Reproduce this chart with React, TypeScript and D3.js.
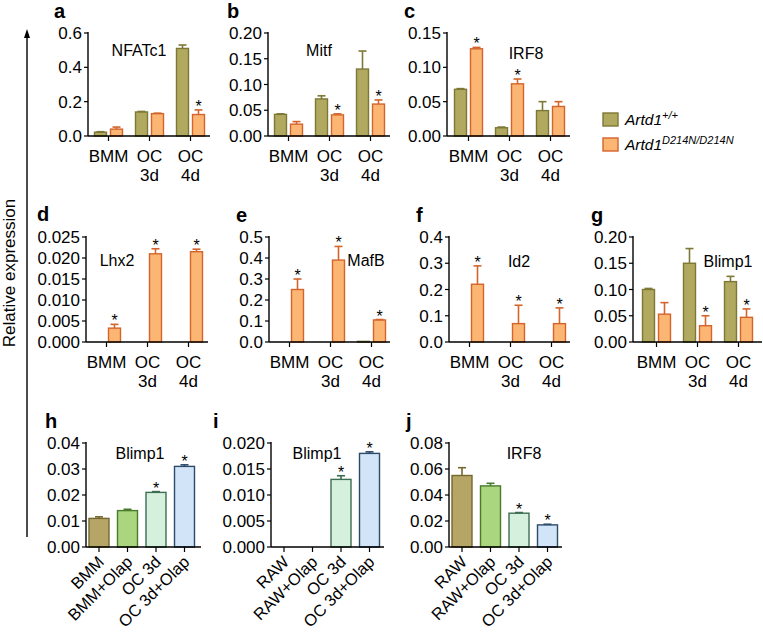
import React from "react";
import * as d3 from "d3";

// ---------- data ----------
const groupCats = ["BMM", "OC 3d", "OC 4d"];
const legendNames = ["Artd1", "Artd1"];
const legendSups = ["+/+", "D214N/D214N"];

// a NFATc1
const nfatc1Wt = [0.022, 0.14, 0.51];
const nfatc1WtSd = [0.003, 0.003, 0.02];
const nfatc1Mut = [0.04, 0.13, 0.125];
const nfatc1MutSd = [0.012, 0.003, 0.027];
const nfatc1Star = [0, 0, 1];
// b Mitf
const mitfWt = [0.042, 0.072, 0.13];
const mitfWtSd = [0.001, 0.006, 0.035];
const mitfMut = [0.023, 0.041, 0.062];
const mitfMutSd = [0.005, 0.002, 0.008];
const mitfStar = [0, 1, 1];
// c IRF8
const irf8Wt = [0.068, 0.012, 0.037];
const irf8WtSd = [0.001, 0.001, 0.013];
const irf8Mut = [0.127, 0.076, 0.043];
const irf8MutSd = [0.002, 0.007, 0.007];
const irf8Star = [1, 1, 0];
// d Lhx2
const lhx2Wt = [0, 0, 0];
const lhx2WtSd = [0, 0, 0];
const lhx2Mut = [0.0033, 0.021, 0.0215];
const lhx2MutSd = [0.0009, 0.0012, 0.0006];
const lhx2Star = [1, 1, 1];
// e MafB
const mafbWt = [0, 0, 0.003];
const mafbWtSd = [0, 0, 0];
const mafbMut = [0.25, 0.39, 0.105];
const mafbMutSd = [0.05, 0.065, 0.002];
const mafbStar = [1, 1, 1];
// f Id2
const id2Wt = [0, 0, 0];
const id2WtSd = [0, 0, 0];
const id2Mut = [0.22, 0.07, 0.07];
const id2MutSd = [0.07, 0.07, 0.06];
const id2Star = [1, 1, 1];
// g Blimp1
const blimpWt = [0.1, 0.15, 0.115];
const blimpWtSd = [0.002, 0.028, 0.01];
const blimpMut = [0.053, 0.031, 0.047];
const blimpMutSd = [0.022, 0.019, 0.016];
const blimpStar = [0, 1, 1];

// h, i, j olaparib panels
const bmmCats = ["BMM", "BMM+Olap", "OC 3d", "OC 3d+Olap"];
const rawCats = ["RAW", "RAW+Olap", "OC 3d", "OC 3d+Olap"];
const hBlimp = [0.011, 0.014, 0.021, 0.031];
const hBlimpSd = [0.0006, 0.0005, 0.0003, 0.0006];
const hStar = [0, 0, 1, 1];
const iBlimp = [0, 0, 0.013, 0.018];
const iBlimpSd = [0, 0, 0.0007, 0.0003];
const iStar = [0, 0, 1, 1];
const jIrf8 = [0.055, 0.047, 0.026, 0.017];
const jIrf8Sd = [0.006, 0.002, 0.0005, 0.0005];
const jStar = [0, 0, 1, 1];

// y ticks
const ticksA = [0, 0.2, 0.4, 0.6];
const ticksB = [0, 0.05, 0.1, 0.15, 0.2];
const ticksC = [0, 0.05, 0.1, 0.15];
const ticksD = [0, 0.005, 0.01, 0.015, 0.02, 0.025];
const ticksE = [0, 0.1, 0.2, 0.3, 0.4, 0.5];
const ticksF = [0, 0.1, 0.2, 0.3, 0.4];
const ticksG = [0, 0.05, 0.1, 0.15, 0.2];
const ticksH = [0, 0.01, 0.02, 0.03, 0.04];
const ticksI = [0, 0.005, 0.01, 0.015, 0.02];
const ticksJ = [0, 0.02, 0.04, 0.06, 0.08];

// ---------- style ----------
const FONT = "'Liberation Sans', Arial, sans-serif";
const WT_FILL = "#b0a95f";
const WT_STROKE = "#7d7836";
const MUT_FILL = "#fcb674";
const MUT_STROKE = "#d4642b";
const OLAP_FILLS = ["#b5a567", "#a9d67e", "#d5f0dc", "#d2e4f8"];
const OLAP_STROKES = ["#76672f", "#4a7a2c", "#3c6e52", "#2c4a6a"];
const TICK_FS = 17;

type GP = {
  letter: string; lx: number; ly: number;
  title: string; tx: number; ty: number;
  x0: number; off: number; xEnd: number; top: number; bottom: number;
  ticks: number[]; fmt: string;
  wt: number[]; wtSd: number[]; mut: number[]; mutSd: number[]; star: number[];
};

function Axes({ x0, xEnd, top, bottom, ticks, fmt, y }: any) {
  const f = d3.format(fmt);
  return (
    <g>
      <line x1={x0} x2={x0} y1={top - 1} y2={bottom} stroke="#000" strokeWidth={1.4} />
      <line x1={x0} x2={xEnd} y1={bottom} y2={bottom} stroke="#000" strokeWidth={1.4} />
      {ticks.map((t: number) => (
        <g key={t}>
          <line x1={x0 - 4} x2={x0} y1={y(t)} y2={y(t)} stroke="#000" strokeWidth={1.2} />
          <text x={x0 - 6} y={y(t) + 6} textAnchor="end" fontSize={TICK_FS} fontFamily={FONT}>
            {f(t)}
          </text>
        </g>
      ))}
    </g>
  );
}

function Bar({ x, w, v, sd, y, fill, stroke, star, bottom }: any) {
  if (v <= 0) return null;
  const yt = y(v);
  const ye = y(v + sd);
  const cx = x + w / 2;
  return (
    <g>
      <rect x={x} y={yt} width={w} height={Math.max(bottom - yt, 0.8)} fill={fill} stroke={stroke} strokeWidth={1.4} />
      {sd > 0 && (
        <g stroke={stroke} strokeWidth={1.6}>
          <line x1={cx} x2={cx} y1={yt} y2={ye} />
          <line x1={cx - 4} x2={cx + 4} y1={ye} y2={ye} />
        </g>
      )}
      {star ? (
        <text x={cx} y={ye + 2} textAnchor="middle" fontSize={16} fontFamily={FONT}>
          *
        </text>
      ) : null}
    </g>
  );
}

function GroupPanel({ p }: { p: GP }) {
  const y = d3.scaleLinear().domain([0, p.ticks[p.ticks.length - 1]]).range([p.bottom, p.top]);
  const x = d3.scaleBand().domain(groupCats).range([p.x0 + p.off, p.x0 + p.off + 123]);
  const bw = 12;
  const gap = 4;
  return (
    <g>
      <text x={p.lx} y={p.ly} fontSize={20} fontWeight="bold" fontFamily={FONT}>{p.letter}</text>
      <text x={p.tx} y={p.ty} textAnchor="middle" fontSize={16} fontFamily={FONT}>{p.title}</text>
      {groupCats.map((c, i) => {
        const cx = (x(c) as number) + x.bandwidth() / 2;
        return (
          <g key={c}>
            <Bar x={cx - gap / 2 - bw} w={bw} v={p.wt[i]} sd={p.wtSd[i]} y={y} fill={WT_FILL} stroke={WT_STROKE} star={0} bottom={p.bottom} />
            <Bar x={cx + gap / 2} w={bw} v={p.mut[i]} sd={p.mutSd[i]} y={y} fill={MUT_FILL} stroke={MUT_STROKE} star={p.star[i]} bottom={p.bottom} />
          </g>
        );
      })}
      <Axes x0={p.x0} xEnd={p.xEnd} top={p.top} bottom={p.bottom} ticks={p.ticks} fmt={p.fmt} y={y} />
      {groupCats.map((c) => {
        const cx = (x(c) as number) + x.bandwidth() / 2;
        const parts = c.split(" ");
        return (
          <g key={c}>
            <line x1={cx} x2={cx} y1={p.bottom} y2={p.bottom + 5} stroke="#000" strokeWidth={1.2} />
            {parts.map((s, k) => (
              <text key={k} x={cx} y={p.bottom + 26 + k * 19} textAnchor="middle" fontSize={TICK_FS} fontFamily={FONT}>{s}</text>
            ))}
          </g>
        );
      })}
    </g>
  );
}

type OP = {
  letter: string; lx: number; ly: number;
  title: string; tx: number; ty: number;
  x0: number; xEnd: number; top: number; bottom: number;
  ticks: number[]; fmt: string; cats: string[];
  vals: number[]; sd: number[]; star: number[];
};

function OlapPanel({ p }: { p: OP }) {
  const y = d3.scaleLinear().domain([0, p.ticks[p.ticks.length - 1]]).range([p.bottom, p.top]);
  const x = d3.scalePoint().domain(p.cats).range([p.x0 + 13, p.x0 + 13 + 3 * 28.5]);
  const bw = 20;
  return (
    <g>
      <text x={p.lx} y={p.ly} fontSize={20} fontWeight="bold" fontFamily={FONT}>{p.letter}</text>
      <text x={p.tx} y={p.ty} textAnchor="middle" fontSize={16} fontFamily={FONT}>{p.title}</text>
      {p.cats.map((c, i) => (
        <Bar key={c} x={(x(c) as number) - bw / 2} w={bw} v={p.vals[i]} sd={p.sd[i]} y={y}
          fill={OLAP_FILLS[i]} stroke={OLAP_STROKES[i]} star={p.star[i]} bottom={p.bottom} />
      ))}
      <Axes x0={p.x0} xEnd={p.xEnd} top={p.top} bottom={p.bottom} ticks={p.ticks} fmt={p.fmt} y={y} />
      {p.cats.map((c) => {
        const cx = x(c) as number;
        return (
          <g key={c}>
            <line x1={cx} x2={cx} y1={p.bottom} y2={p.bottom + 5} stroke="#000" strokeWidth={1.2} />
            <text transform={`translate(${cx + 6},${p.bottom + 16}) rotate(-45)`} textAnchor="end"
              fontSize={16.5} fontFamily={FONT}>{c}</text>
          </g>
        );
      })}
    </g>
  );
}

export default function App() {
  const row1 = { top: 33, bottom: 136 };
  const row2 = { top: 237, bottom: 342 };
  const groups: GP[] = [
    { letter: "a", lx: 54, ly: 18, title: "NFATc1", tx: 139, ty: 56, x0: 88, off: 0, xEnd: 210, ...row1, ticks: ticksA, fmt: ".1f",
      wt: nfatc1Wt, wtSd: nfatc1WtSd, mut: nfatc1Mut, mutSd: nfatc1MutSd, star: nfatc1Star },
    { letter: "b", lx: 227, ly: 18, title: "Mitf", tx: 319, ty: 56, x0: 268, off: 0, xEnd: 390, ...row1, ticks: ticksB, fmt: ".2f",
      wt: mitfWt, wtSd: mitfWtSd, mut: mitfMut, mutSd: mitfMutSd, star: mitfStar },
    { letter: "c", lx: 404, ly: 18, title: "IRF8", tx: 526, ty: 59, x0: 447, off: 1, xEnd: 570, ...row1, ticks: ticksC, fmt: ".2f",
      wt: irf8Wt, wtSd: irf8WtSd, mut: irf8Mut, mutSd: irf8MutSd, star: irf8Star },
    { letter: "d", lx: 37, ly: 221, title: "Lhx2", tx: 117, ty: 266, x0: 86, off: 0, xEnd: 208, ...row2, ticks: ticksD, fmt: ".3f",
      wt: lhx2Wt, wtSd: lhx2WtSd, mut: lhx2Mut, mutSd: lhx2MutSd, star: lhx2Star },
    { letter: "e", lx: 236, ly: 222, title: "MafB", tx: 366, ty: 266, x0: 269, off: 0, xEnd: 390, ...row2, ticks: ticksE, fmt: ".1f",
      wt: mafbWt, wtSd: mafbWtSd, mut: mafbMut, mutSd: mafbMutSd, star: mafbStar },
    { letter: "f", lx: 416, ly: 222, title: "Id2", tx: 519, ty: 267, x0: 449, off: 0, xEnd: 570, ...row2, ticks: ticksF, fmt: ".1f",
      wt: id2Wt, wtSd: id2WtSd, mut: id2Mut, mutSd: id2MutSd, star: id2Star },
    { letter: "g", lx: 591, ly: 222, title: "Blimp1", tx: 728, ty: 267, x0: 633, off: 3, xEnd: 762, ...row2, ticks: ticksG, fmt: ".2f",
      wt: blimpWt, wtSd: blimpWtSd, mut: blimpMut, mutSd: blimpMutSd, star: blimpStar },
  ];
  const row3 = { top: 443, bottom: 547 };
  const olaps: OP[] = [
    { letter: "h", lx: 45, ly: 428, title: "Blimp1", tx: 140, ty: 459, x0: 86, xEnd: 201, ...row3, ticks: ticksH, fmt: ".2f",
      cats: bmmCats, vals: hBlimp, sd: hBlimpSd, star: hStar },
    { letter: "i", lx: 213, ly: 428, title: "Blimp1", tx: 317, ty: 459, x0: 271, xEnd: 384, ...row3, ticks: ticksI, fmt: ".3f",
      cats: rawCats, vals: iBlimp, sd: iBlimpSd, star: iStar },
    { letter: "j", lx: 406, ly: 428, title: "IRF8", tx: 524, ty: 459, x0: 449, xEnd: 562, ...row3, ticks: ticksJ, fmt: ".2f",
      cats: rawCats, vals: jIrf8, sd: jIrf8Sd, star: jStar },
  ];
  return (
    <svg width={763} height={644} style={{ position: "absolute", left: 0, top: 0, background: "#fff" }}>
      <rect width={763} height={644} fill="#fff" />
      {/* y-axis arrow */}
      <line x1={27} x2={27} y1={36} y2={537} stroke="#000" strokeWidth={1.4} />
      <path d="M27,29 L24,38 L30,38 Z" fill="#000" />
      <text transform="translate(15,273) rotate(-90)" textAnchor="middle" fontSize={17} fontFamily={FONT}>
        Relative expression
      </text>
      {groups.map((p) => <GroupPanel key={p.letter} p={p} />)}
      {olaps.map((p) => <OlapPanel key={p.letter} p={p} />)}
      {/* legend */}
      {legendNames.map((n, i) => (
        <g key={i}>
          <rect x={603} y={113 + i * 25} width={15} height={13} fill={i === 0 ? WT_FILL : MUT_FILL}
            stroke={i === 0 ? WT_STROKE : MUT_STROKE} strokeWidth={1.4} />
          <text x={625} y={125 + i * 25} fontSize={15.5} fontStyle="italic" fontFamily={FONT}>
            {n}
            <tspan fontSize={11} dy={-6}>{legendSups[i]}</tspan>
          </text>
        </g>
      ))}
    </svg>
  );
}
